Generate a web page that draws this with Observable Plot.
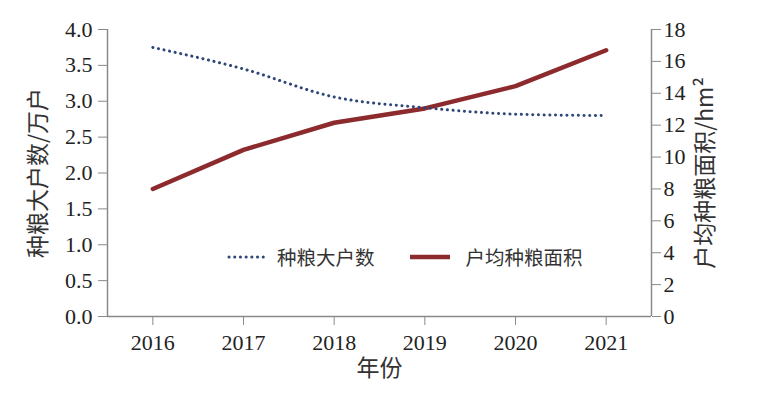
<!DOCTYPE html>
<html>
<head>
<meta charset="utf-8">
<script src="https://cdn.jsdelivr.net/npm/d3@7"></script>
<script src="https://cdn.jsdelivr.net/npm/@observablehq/plot@0.6"></script>
<style>
  body { margin: 0; background: #fff; }
  #wrap { position: relative; width: 761px; height: 395px; }
  .legend { position: absolute; top: 242px; left: 227px; display: flex; align-items: center;
    font-family: "Noto Sans CJK SC", sans-serif; font-size: 19.5px; color: #333; }
  .legend span { margin-right: 34px; }
  .legend svg { margin-right: 10px; }
  .legend svg.red { margin-right: 15px; }
  #wrap svg g[aria-label$="tick label"] text { font-family: "Liberation Serif", "DejaVu Serif", serif !important; font-size: 22px !important; }
  #wrap svg g[aria-label$="tick label"] { font-size: 22px !important; }
</style>
</head>
<body>
<div id="wrap"></div>
<script>
const years = [2016, 2017, 2018, 2019, 2020, 2021];
const households = [3.75, 3.45, 3.06, 2.91, 2.82, 2.80];   // 种粮大户数 / 万户
const areaPerHH = [8.0, 10.45, 12.15, 13.05, 14.45, 16.7]; // 户均种粮面积 / hm²
const leftTicks = [0, 0.5, 1, 1.5, 2, 2.5, 3, 3.5, 4];
const rightTicks = [0, 2, 4, 6, 8, 10, 12, 14, 16, 18];
const seriesNames = ["种粮大户数", "户均种粮面积"];
const leftLabel = "种粮大户数/万户";
const rightLabel = "户均种粮面积/hm²";
const xLabel = "年份";

const k = 4 / 18; // right -> left scale
const blueData = years.map((y, i) => ({year: y, v: households[i]}));
const redData = years.map((y, i) => ({year: y, v: areaPerHH[i] * k}));

const BLUE = "#2f4778", RED = "#8c2a2d", AX = "#8a8a8a";
const numFont = "Liberation Serif, serif";
const cjk = "Noto Sans CJK SC, sans-serif";
const axisText = {fontFamily: numFont, fontSize: 22, fill: "#222"};

const chart = Plot.plot({
  width: 761, height: 395,
  marginLeft: 107, marginRight: 110, marginTop: 29, marginBottom: 79,
  style: {fontFamily: numFont, fontSize: "22px", color: "#222", background: "#fff"},
  x: {domain: [2015.5, 2021.5]},
  y: {domain: [0, 4]},
  marks: [
    Plot.ruleX([2015.5, 2021.5], {stroke: AX, strokeWidth: 1.5}),
    Plot.ruleY([0], {stroke: AX, strokeWidth: 1.5}),
    Plot.axisX({ticks: years, tickFormat: d => String(d), tickSize: 9, tickPadding: 9, stroke: AX, label: null, ...axisText}),
    Plot.axisY({ticks: leftTicks, tickFormat: d3.format(".1f"), tickSize: 9, tickPadding: 6, stroke: AX, label: null, ...axisText}),
    Plot.axisY({anchor: "right", ticks: rightTicks.map(v => v * k), tickFormat: v => String(Math.round(v / k)),
      tickSize: 9, tickPadding: 3, stroke: AX, label: null, ...axisText}),
    Plot.line(redData, {x: "year", y: "v", stroke: RED, strokeWidth: 4.5}),
    Plot.line(blueData, {x: "year", y: "v", stroke: BLUE, strokeWidth: 3, strokeDasharray: "0.1 5.6",
      strokeLinecap: "round", curve: "monotone-x"}),
    Plot.text([leftLabel], {frameAnchor: "left", dx: -69, rotate: -90, textAnchor: "middle", fontFamily: cjk, fontSize: 23, fill: "#333"}),
    Plot.text([rightLabel], {frameAnchor: "right", dx: 54, rotate: -90, textAnchor: "middle", fontFamily: cjk, fontSize: 23, fill: "#333"}),
    Plot.text([xLabel], {frameAnchor: "bottom", dy: 59, fontFamily: cjk, fontSize: 23, fill: "#333"})
  ]
});

const wrap = document.getElementById("wrap");
wrap.appendChild(chart);

const legend = document.createElement("div");
legend.className = "legend";
legend.innerHTML =
  `<svg width="40" height="10"><line x1="2" y1="5" x2="38" y2="5" stroke="${BLUE}" stroke-width="3" stroke-dasharray="0.1 5.6" stroke-linecap="round"/></svg><span>${seriesNames[0]}</span>` +
  `<svg class="red" width="42" height="10"><line x1="1" y1="5" x2="41" y2="5" stroke="${RED}" stroke-width="4.5"/></svg><span>${seriesNames[1]}</span>`;
wrap.appendChild(legend);
</script>
</body>
</html>
